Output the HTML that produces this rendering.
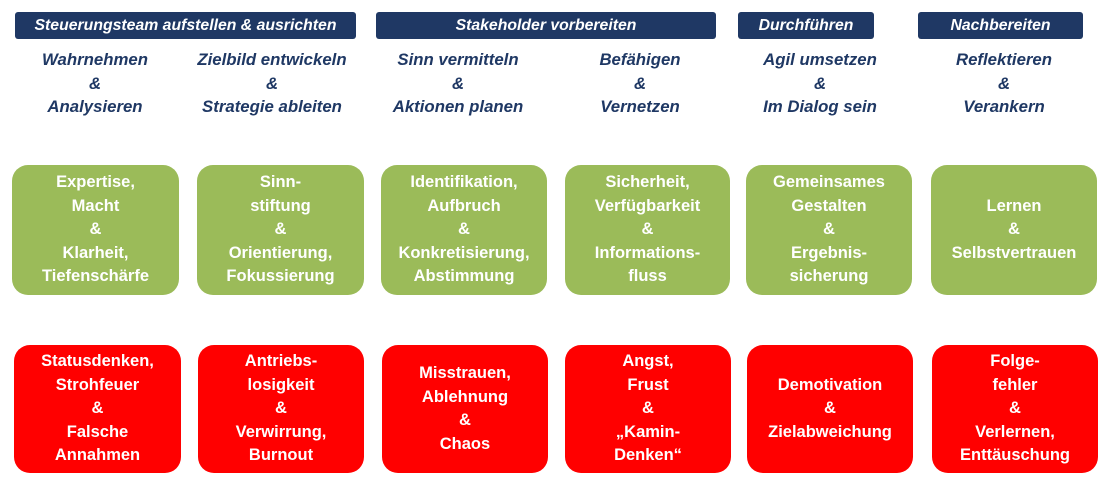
<!DOCTYPE html>
<html><head><meta charset="utf-8"><style>
body{margin:0;width:1099px;height:489px;background:#fff;position:relative;font-family:"Liberation Sans",sans-serif;overflow:hidden}
.h{position:absolute;top:12px;height:27px;background:#1f3864;color:#fff;border-radius:3px;font-weight:bold;font-style:italic;font-size:15.8px;display:flex;align-items:center;justify-content:center;white-space:nowrap}
.s{position:absolute;top:48px;width:220px;margin-left:-110px;text-align:center;color:#1f3864;font-weight:bold;font-style:italic;font-size:16.8px;line-height:23.5px}
.b{position:absolute;color:#fff;font-weight:bold;font-size:16.5px;line-height:23.5px;border-radius:16px;display:flex;align-items:center;justify-content:center;text-align:center}
.g{background:#9bbb59;top:165px;height:130px}
.r{background:#ff0000;top:345px;height:128px}
</style></head><body>
<div class="h" style="left:15px;width:341px">Steuerungsteam aufstellen &amp; ausrichten</div>
<div class="h" style="left:376px;width:340px">Stakeholder vorbereiten</div>
<div class="h" style="left:738px;width:136px">Durchführen</div>
<div class="h" style="left:918px;width:165px">Nachbereiten</div>

<div class="s" style="left:95px">Wahrnehmen<br>&amp;<br>Analysieren</div>
<div class="s" style="left:272px">Zielbild entwickeln<br>&amp;<br>Strategie ableiten</div>
<div class="s" style="left:458px">Sinn vermitteln<br>&amp;<br>Aktionen planen</div>
<div class="s" style="left:640px">Befähigen<br>&amp;<br>Vernetzen</div>
<div class="s" style="left:820px">Agil umsetzen<br>&amp;<br>Im Dialog sein</div>
<div class="s" style="left:1004px">Reflektieren<br>&amp;<br>Verankern</div>

<div class="b g" style="left:12px;width:167px"><div>Expertise,<br>Macht<br>&amp;<br>Klarheit,<br>Tiefenschärfe</div></div>
<div class="b g" style="left:197px;width:167px"><div>Sinn-<br>stiftung<br>&amp;<br>Orientierung,<br>Fokussierung</div></div>
<div class="b g" style="left:381px;width:166px"><div>Identifikation,<br>Aufbruch<br>&amp;<br>Konkretisierung,<br>Abstimmung</div></div>
<div class="b g" style="left:565px;width:165px"><div>Sicherheit,<br>Verfügbarkeit<br>&amp;<br>Informations-<br>fluss</div></div>
<div class="b g" style="left:746px;width:166px"><div>Gemeinsames<br>Gestalten<br>&amp;<br>Ergebnis-<br>sicherung</div></div>
<div class="b g" style="left:931px;width:166px"><div>Lernen<br>&amp;<br>Selbstvertrauen</div></div>

<div class="b r" style="left:14px;width:167px"><div>Statusdenken,<br>Strohfeuer<br>&amp;<br>Falsche<br>Annahmen</div></div>
<div class="b r" style="left:198px;width:166px"><div>Antriebs-<br>losigkeit<br>&amp;<br>Verwirrung,<br>Burnout</div></div>
<div class="b r" style="left:382px;width:166px"><div>Misstrauen,<br>Ablehnung<br>&amp;<br>Chaos</div></div>
<div class="b r" style="left:565px;width:166px"><div>Angst,<br>Frust<br>&amp;<br>„Kamin-<br>Denken“</div></div>
<div class="b r" style="left:747px;width:166px"><div>Demotivation<br>&amp;<br>Zielabweichung</div></div>
<div class="b r" style="left:932px;width:166px"><div>Folge-<br>fehler<br>&amp;<br>Verlernen,<br>Enttäuschung</div></div>
</body></html>
